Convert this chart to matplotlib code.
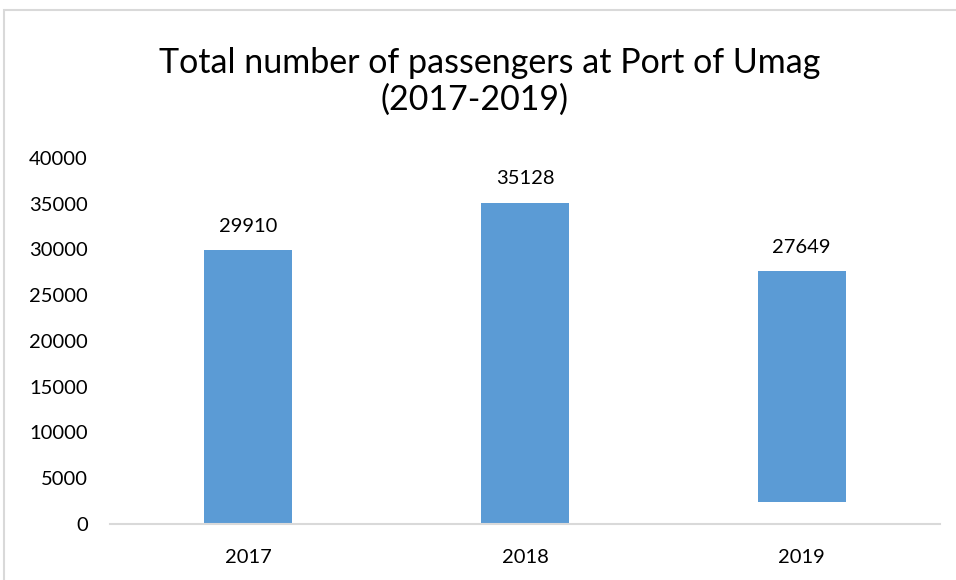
import matplotlib
matplotlib.use('Agg')
import matplotlib.pyplot as plt
from matplotlib.patches import Rectangle

years = ['2017', '2018', '2019']
passengers = [29910, 35128, 27649]
bar_bottom = [0, 0, 2400]
y_ticks = [0, 5000, 10000, 15000, 20000, 25000, 30000, 35000, 40000]
title_lines = ['Total number of passengers at Port of Umag', '(2017-2019)']

plt.rcParams['font.family'] = ['Lato', 'DejaVu Sans']

fig = plt.figure(figsize=(9.56, 5.8), dpi=100)
ax = fig.add_axes([0.1151, 0.0966, 0.8682, 0.631])

heights = [p - b for p, b in zip(passengers, bar_bottom)]
x = range(len(years))
ax.bar(x, heights, bottom=bar_bottom, width=0.318, color='#5B9BD5')

for i, v in enumerate(passengers):
    ax.annotate(str(v), (i, v), xytext=(0, 11), textcoords='offset points',
                ha='center', va='bottom', fontsize=14.5, color='#000000')

ax.set_xlim(-0.5, 2.5)
ax.set_ylim(0, 40000)
ax.set_xticks(list(x))
ax.set_xticklabels(years, fontsize=14.5)
ax.set_yticks(y_ticks)
ax.set_yticklabels([str(t) for t in y_ticks], fontsize=14.5)
ax.tick_params(axis='both', length=0)
ax.tick_params(axis='y', pad=16)
ax.tick_params(axis='x', pad=18)

for s in ['top', 'right', 'left']:
    ax.spines[s].set_visible(False)
ax.spines['bottom'].set_color('#d9d9d9')
ax.spines['bottom'].set_linewidth(1.5)

# title, two lines (second line sits a bit left in the original)
fig.text(490 / 956, 1 - 63 / 580, title_lines[0], ha='center', va='center', fontsize=24.5)
fig.text(475 / 956, 1 - 100 / 580, title_lines[1], ha='center', va='center', fontsize=24.5)

# outer chart frame
fig.patches.append(Rectangle((4 / 956, -0.1), 1.2, 0.1 + 0.9828, transform=fig.transFigure,
                             fill=False, edgecolor='#d9d9d9', linewidth=1.5))

fig.savefig('out.png', dpi=100)
